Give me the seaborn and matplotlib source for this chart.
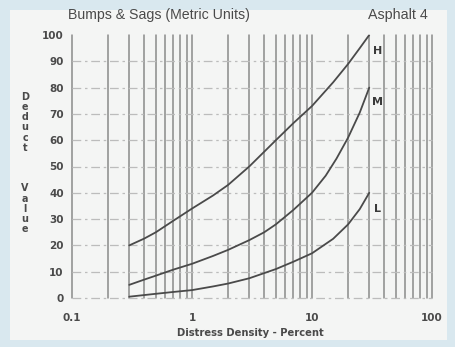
import numpy as np
import pandas as pd
import matplotlib
matplotlib.use("Agg")
import matplotlib.pyplot as plt
import seaborn as sns
from matplotlib.patches import Rectangle

# ---- data ----
density_H = [0.3, 0.4, 0.5, 0.7, 1, 1.5, 2, 3, 5, 7, 10, 15, 20, 25, 30]
deduct_H = [20, 22.6, 25, 29.4, 34, 39, 43, 50, 60, 66.5, 73, 82, 89, 95, 100]

density_M = [0.3, 0.4, 0.5, 0.7, 1, 1.5, 2, 3, 4, 5, 7, 10, 13, 16, 20, 25, 30]
deduct_M = [5, 7, 8.5, 10.8, 13, 16, 18.3, 22, 25, 28, 33.5, 40, 46.5, 53, 61, 70.5, 80]

density_L = [0.3, 0.5, 0.7, 1, 1.5, 2, 3, 5, 7, 10, 15, 20, 25, 30]
deduct_L = [0.5, 1.6, 2.3, 3, 4.4, 5.5, 7.5, 11, 13.8, 17, 22.5, 28, 33.8, 40]

level_labels = ["H", "M", "L"]
label_y = [94, 74.5, 34]

x_ticks = [0.1, 1, 10, 100]
x_tick_labels = ["0.1", "1", "10", "100"]
y_ticks = list(range(0, 101, 10))

title_left = "Bumps & Sags (Metric Units)"
title_right = "Asphalt 4"
x_label = "Distress Density - Percent"
y_label = "Deduct Value"

df = pd.concat([
    pd.DataFrame({"density": density_H, "deduct": deduct_H, "level": "H"}),
    pd.DataFrame({"density": density_M, "deduct": deduct_M, "level": "M"}),
    pd.DataFrame({"density": density_L, "deduct": deduct_L, "level": "L"}),
])

sns.set_theme(style="white")
plt.rcParams['font.family'] = ['DejaVu Sans']

W, H = 455, 347
fig = plt.figure(figsize=(W / 100, H / 100), dpi=100)
fig.patch.set_facecolor("#d9e8ef")
fig.patches.append(Rectangle((10 / W, 1 - 340 / H), 437 / W, 330 / H,
                             transform=fig.transFigure, facecolor="#f4f5f4",
                             edgecolor="none", zorder=-10))

ax = fig.add_axes([72 / W, 1 - 298 / H, 360 / W, 263 / H])
ax.set_facecolor("none")
ax.set_zorder(5)

line_color = "#4a4a4a"
sns.lineplot(data=df, x="density", y="deduct", hue="level",
             palette={"H": line_color, "M": line_color, "L": line_color},
             linewidth=1.3, legend=False, ax=ax, sort=True)

ax.set_xscale("log")
ax.set_xlim(0.1, 100)
ax.set_ylim(0, 100)

for s in ax.spines.values():
    s.set_visible(False)

# vertical grid (major + minor)
ax.set_xticks(x_ticks)
ax.set_xticklabels(x_tick_labels)
ax.xaxis.set_minor_locator(matplotlib.ticker.LogLocator(base=10, subs=np.arange(2, 10)))
ax.xaxis.set_minor_formatter(matplotlib.ticker.NullFormatter())
ax.grid(True, which="both", axis="x", color="#8a8a8a", linewidth=1.1, linestyle="-")
ax.set_yticks(y_ticks)
ax.grid(True, which="major", axis="y", color="#bcbcbc", linewidth=0.9,
        linestyle=(0, (7, 3, 2, 3)))

ax.tick_params(axis="both", which="both", length=0, labelsize=7.5, labelcolor="#4a4a4a")
ax.tick_params(axis="x", pad=11)
ax.tick_params(axis="y", pad=6)
for t in ax.get_xticklabels() + ax.get_yticklabels():
    t.set_fontweight("bold")

ax.set_xlabel("")
ax.set_ylabel("")

# curve labels
for lab, yv in zip(level_labels, label_y):
    ax.text(35, yv, lab, fontsize=8, fontweight="bold", color="#3a3a3a",
            ha="center", va="center")

fig.text(159 / W, 1 - 15 / H, title_left, fontsize=10.2, color="#4a4a4a",
         ha="center", va="center", family="Liberation Sans")
fig.text(398 / W, 1 - 15 / H, title_right, fontsize=10.3, color="#4a4a4a",
         ha="center", va="center", family="Liberation Sans")
fig.text(250 / W, 1 - 333 / H, x_label, fontsize=7.2, fontweight="bold",
         color="#4a4a4a", ha="center", va="center")

letters = list("Deduct") + ["", "", ""] + list("Value")
fig.text(25 / W, 1 - 163 / H, "\n".join(letters), fontsize=6.9, fontweight="bold",
         color="#4a4a4a", ha="center", va="center", linespacing=1.02)

fig.canvas.draw()
for tk in ax.xaxis.get_major_ticks() + ax.xaxis.get_minor_ticks() + ax.yaxis.get_major_ticks():
    tk.gridline.set_clip_on(False)
ax.yaxis.get_major_ticks()[-1].gridline.set_visible(False)

fig.savefig("out.png", dpi=100, facecolor=fig.get_facecolor())
